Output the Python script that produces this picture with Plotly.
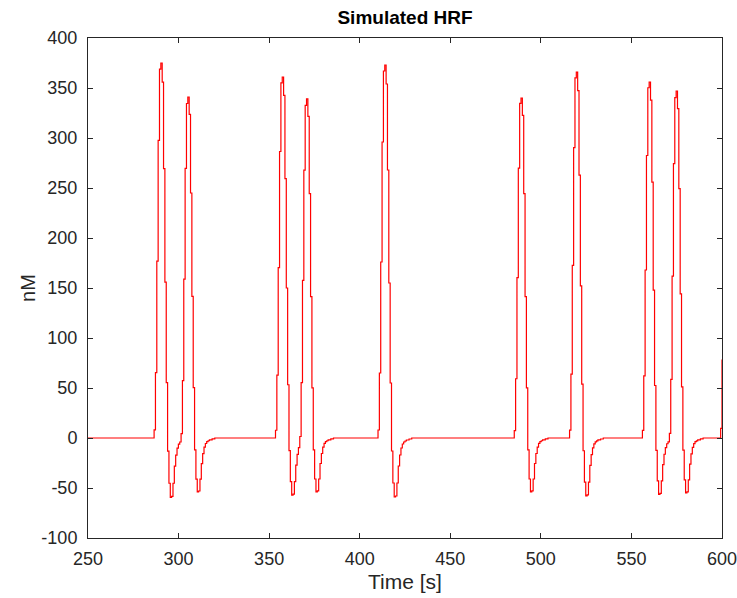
import numpy as np
import plotly.graph_objects as go

# Response shape (nM) read from the isolated response near 414 s, one value per sample step
pulse_shape_nM = [8, 65, 176, 296, 367, 373, 354, 268, 155, 55, -13, -45, -59, -58,
                  -45, -28, -17, -10, -6, -4, -3, -2, -2, -1, -1, 0]
# Onset time (s) and peak height (nM) of each response
pulse_onsets_s = [286.6, 301.3, 353.6, 367.0, 410.3, 485.3, 515.7, 556.2, 571.3, 599.3]
pulse_peaks_nM = [375, 341, 361, 340, 373, 340, 366, 356, 347, 450]

t_start, t_end, n_steps = 250.0, 600.0, 470
x_ticks = [250, 300, 350, 400, 450, 500, 550, 600]
y_ticks = [-100, -50, 0, 50, 100, 150, 200, 250, 300, 350, 400]

t = np.linspace(t_start, t_end, n_steps + 1)
dt = (t_end - t_start) / n_steps
y = np.zeros_like(t)
ref_peak = max(pulse_shape_nM)
for onset, peak in zip(pulse_onsets_s, pulse_peaks_nM):
    k0 = int(round((onset - t_start) / dt))
    for j, v in enumerate(pulse_shape_nM):
        if 0 <= k0 + j < len(y):
            y[k0 + j] += v * peak / ref_peak

font_family = "Liberation Sans, Arial, sans-serif"
axis_color = "#262626"

fig = go.Figure(go.Scatter(x=t, y=y, mode="lines",
                           line=dict(color="#ff0000", width=1.2, shape="hv"),
                           showlegend=False, hoverinfo="skip"))

axis_common = dict(showline=True, linecolor=axis_color, linewidth=1, mirror="ticks",
                   ticks="inside", ticklen=5, tickcolor=axis_color, tickwidth=1,
                   showgrid=False, zeroline=False, automargin=False,
                   ticklabeloverflow="allow",
                   tickfont=dict(family=font_family, size=18, color=axis_color))

fig.update_layout(
    width=737, height=598,
    margin=dict(l=88, r=15, t=38, b=60),
    paper_bgcolor="white", plot_bgcolor="white",
    title=dict(text="<b>Simulated HRF</b>", x=405 / 737, xanchor="center",
               y=1 - 17 / 598, yanchor="middle",
               font=dict(family=font_family, size=19, color="black")),
    xaxis=dict(range=[250, 600], tickvals=x_ticks, ticktext=[str(v) for v in x_ticks],
               ticklabelstandoff=4,
               title=dict(text="Time [s]", standoff=6,
                          font=dict(family=font_family, size=21, color=axis_color)),
               **axis_common),
    yaxis=dict(range=[-100, 400], tickvals=y_ticks, ticktext=[str(v) for v in y_ticks],
               ticklabelstandoff=6,
               title=dict(text="nM", standoff=0,
                          font=dict(family=font_family, size=20, color=axis_color)),
               **axis_common),
)

fig.write_html("out.html", config={"displayModeBar": False},
               post_script="document.body.style.margin='0';")
